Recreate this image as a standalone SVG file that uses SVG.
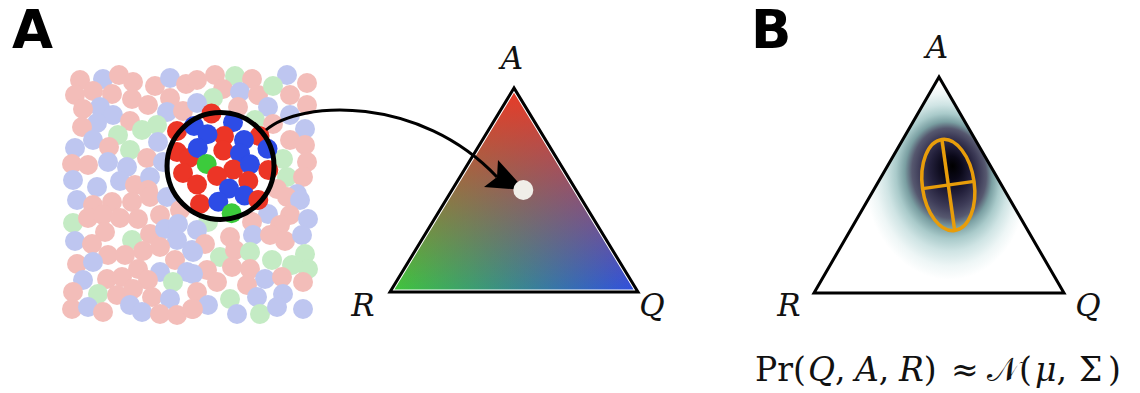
<svg xmlns="http://www.w3.org/2000/svg" width="1140" height="393" viewBox="0 0 1140 393">
<style>
.panel{font-family:"DejaVu Sans","Liberation Sans",sans-serif;font-weight:bold;font-size:53px;fill:#000}
.vlab{font-family:"DejaVu Serif","Liberation Serif",serif;font-style:italic;font-size:31px;fill:#111;text-anchor:middle}
.p{fill:#f3bdb9}.b{fill:#bec6f0}.g{fill:#c4ebc4}
.R{fill:#ec3526}.B{fill:#2d4ce6}.G{fill:#3ccb3c}
.tri{fill:none;stroke:#000;stroke-width:3;stroke-linejoin:miter}
.math{font-family:"DejaVu Serif","Liberation Serif",serif;font-size:33px;fill:#111}
.it{font-style:italic}
</style>
<defs>
<linearGradient id="baseGrad" gradientUnits="userSpaceOnUse" x1="390" y1="0" x2="638" y2="0">
<stop offset="0" stop-color="#3ec83a"/>
<stop offset="1" stop-color="#2f4ee2"/>
</linearGradient>
<linearGradient id="redGrad" gradientUnits="userSpaceOnUse" x1="0" y1="88" x2="0" y2="292">
<stop offset="0" stop-color="#ea3a26" stop-opacity="1"/>
<stop offset="1" stop-color="#ea3a26" stop-opacity="0"/>
</linearGradient>
<radialGradient id="dens" gradientUnits="userSpaceOnUse" cx="945" cy="182" r="98" fx="957" fy="167" gradientTransform="translate(945 182) rotate(-8) scale(0.82 1) translate(-945 -182)">
<stop offset="0" stop-color="#000000"/>
<stop offset="0.12" stop-color="#0a0818"/>
<stop offset="0.25" stop-color="#221f3a"/>
<stop offset="0.37" stop-color="#3e3c58"/>
<stop offset="0.46" stop-color="#56586f"/>
<stop offset="0.54" stop-color="#7a9fa2"/>
<stop offset="0.64" stop-color="#a9caca"/>
<stop offset="0.75" stop-color="#cfe4e4"/>
<stop offset="0.88" stop-color="#eef6f6"/>
<stop offset="1" stop-color="#ffffff"/>
</radialGradient>
</defs>
<rect width="1140" height="393" fill="#fff"/>

<text class="panel" x="12" y="48">A</text>
<text class="panel" x="751" y="48">B</text>

<g id="sample">
<g id="faded-dots">
<circle class="p" cx="80" cy="80" r="10"/><circle class="b" cx="103" cy="79" r="10"/><circle class="p" cx="119" cy="75" r="10"/><circle class="p" cx="133" cy="82" r="10"/><circle class="p" cx="155" cy="86" r="10"/><circle class="b" cx="170" cy="78" r="10"/><circle class="p" cx="186" cy="84" r="10"/>
<circle class="p" cx="75" cy="95" r="10"/><circle class="p" cx="93" cy="91" r="10"/><circle class="p" cx="112" cy="94" r="10"/><circle class="p" cx="132" cy="99" r="10"/><circle class="p" cx="148" cy="105" r="10"/><circle class="p" cx="170" cy="98" r="10"/>
<circle class="b" cx="100" cy="107" r="10"/><circle class="p" cx="83" cy="109" r="10"/><circle class="b" cx="113" cy="115" r="10"/><circle class="p" cx="130" cy="121" r="10"/><circle class="b" cx="167" cy="112" r="10"/><circle class="p" cx="183" cy="111" r="10"/>
<circle class="b" cx="97" cy="123" r="10"/><circle class="p" cx="82" cy="127" r="10"/><circle class="g" cx="118" cy="135" r="10"/><circle class="g" cx="142" cy="130" r="10"/><circle class="g" cx="157" cy="125" r="10"/>
<circle class="b" cx="93" cy="140" r="10"/><circle class="p" cx="109" cy="147" r="10"/><circle class="g" cx="130" cy="150" r="10"/><circle class="b" cx="158" cy="142" r="10"/><circle class="b" cx="75" cy="148" r="10"/>
<circle class="p" cx="147" cy="158" r="10"/><circle class="p" cx="72" cy="164" r="10"/><circle class="p" cx="88" cy="165" r="10"/><circle class="b" cx="108" cy="162" r="10"/><circle class="b" cx="127" cy="167" r="10"/><circle class="b" cx="163" cy="162" r="10"/>
<circle class="b" cx="73" cy="180" r="10"/><circle class="b" cx="97" cy="187" r="10"/><circle class="b" cx="120" cy="181" r="10"/><circle class="p" cx="135" cy="185" r="10"/><circle class="b" cx="150" cy="177" r="10"/><circle class="p" cx="148" cy="190" r="10"/>
<circle class="p" cx="197" cy="80" r="10"/><circle class="p" cx="215" cy="75" r="10"/><circle class="g" cx="235" cy="76" r="10"/><circle class="p" cx="252" cy="79" r="10"/><circle class="b" cx="287" cy="75" r="10"/><circle class="p" cx="307" cy="83" r="10"/>
<circle class="p" cx="223" cy="89" r="10"/><circle class="b" cx="240" cy="92" r="10"/><circle class="p" cx="258" cy="95" r="10"/><circle class="g" cx="273" cy="86" r="10"/><circle class="p" cx="290" cy="95" r="10"/><circle class="g" cx="213" cy="98" r="10"/>
<circle class="b" cx="197" cy="103" r="10"/><circle class="p" cx="238" cy="107" r="10"/><circle class="b" cx="268" cy="107" r="10"/><circle class="b" cx="290" cy="115" r="10"/><circle class="p" cx="307" cy="105" r="10"/>
<circle class="g" cx="255" cy="120" r="10"/><circle class="p" cx="273" cy="124" r="10"/><circle class="b" cx="305" cy="129" r="10"/><circle class="p" cx="290" cy="140" r="10"/><circle class="p" cx="305" cy="145" r="10"/>
<circle class="g" cx="283" cy="159" r="10"/><circle class="p" cx="307" cy="162" r="10"/><circle class="g" cx="287" cy="177" r="10"/><circle class="p" cx="303" cy="177" r="10"/><circle class="p" cx="277" cy="189" r="10"/><circle class="b" cx="297" cy="194" r="10"/>
<circle class="b" cx="77" cy="200" r="10"/><circle class="p" cx="93" cy="205" r="10"/><circle class="p" cx="112" cy="202" r="10"/><circle class="p" cx="132" cy="202" r="10"/><circle class="p" cx="150" cy="197" r="10"/><circle class="b" cx="167" cy="197" r="10"/>
<circle class="g" cx="73" cy="223" r="10"/><circle class="p" cx="88" cy="218" r="10"/><circle class="p" cx="103" cy="215" r="10"/><circle class="p" cx="120" cy="218" r="10"/><circle class="p" cx="138" cy="219" r="10"/><circle class="p" cx="160" cy="215" r="10"/><circle class="p" cx="180" cy="210" r="10"/>
<circle class="p" cx="105" cy="232" r="10"/><circle class="g" cx="132" cy="240" r="10"/><circle class="p" cx="150" cy="234" r="10"/><circle class="b" cx="165" cy="229" r="10"/><circle class="b" cx="178" cy="224" r="10"/>
<circle class="b" cx="75" cy="241" r="10"/><circle class="p" cx="92" cy="244" r="10"/><circle class="b" cx="177" cy="240" r="10"/><circle class="p" cx="143" cy="251" r="10"/><circle class="p" cx="160" cy="247" r="10"/><circle class="b" cx="192" cy="250" r="10"/>
<circle class="p" cx="108" cy="255" r="10"/><circle class="p" cx="125" cy="255" r="10"/><circle class="p" cx="77" cy="264" r="10"/><circle class="b" cx="93" cy="262" r="10"/><circle class="p" cx="138" cy="269" r="10"/><circle class="p" cx="175" cy="260" r="10"/>
<circle class="b" cx="160" cy="272" r="10"/><circle class="b" cx="187" cy="272" r="10"/><circle class="p" cx="107" cy="279" r="10"/><circle class="p" cx="122" cy="277" r="10"/><circle class="p" cx="148" cy="280" r="10"/><circle class="b" cx="83" cy="280" r="10"/><circle class="g" cx="173" cy="282" r="10"/>
<circle class="p" cx="73" cy="292" r="10"/><circle class="g" cx="98" cy="294" r="10"/><circle class="p" cx="117" cy="295" r="10"/><circle class="p" cx="133" cy="289" r="10"/><circle class="p" cx="152" cy="297" r="10"/><circle class="b" cx="170" cy="299" r="10"/>
<circle class="p" cx="72" cy="309" r="10"/><circle class="b" cx="88" cy="307" r="10"/><circle class="p" cx="103" cy="312" r="10"/><circle class="b" cx="130" cy="305" r="10"/><circle class="b" cx="142" cy="312" r="10"/><circle class="p" cx="160" cy="314" r="10"/><circle class="p" cx="177" cy="315" r="10"/><circle class="p" cx="192" cy="309" r="10"/>
<circle class="p" cx="287" cy="197" r="10"/><circle class="b" cx="300" cy="200" r="10"/><circle class="b" cx="268" cy="214" r="10"/><circle class="p" cx="290" cy="215" r="10"/><circle class="b" cx="308" cy="219" r="10"/><circle class="p" cx="252" cy="222" r="10"/><circle class="p" cx="280" cy="225" r="10"/><circle class="g" cx="208" cy="222" r="10"/>
<circle class="b" cx="197" cy="230" r="10"/><circle class="p" cx="230" cy="237" r="10"/><circle class="b" cx="253" cy="235" r="10"/><circle class="p" cx="270" cy="235" r="10"/><circle class="p" cx="285" cy="241" r="10"/><circle class="b" cx="302" cy="235" r="10"/>
<circle class="p" cx="205" cy="244" r="10"/><circle class="b" cx="193" cy="252" r="10"/><circle class="g" cx="220" cy="257" r="10"/><circle class="p" cx="235" cy="250" r="10"/><circle class="g" cx="250" cy="252" r="10"/><circle class="g" cx="272" cy="260" r="10"/><circle class="g" cx="292" cy="265" r="10"/><circle class="g" cx="305" cy="254" r="10"/><circle class="g" cx="308" cy="269" r="10"/>
<circle class="p" cx="207" cy="270" r="10"/><circle class="p" cx="232" cy="267" r="10"/><circle class="p" cx="250" cy="269" r="10"/><circle class="b" cx="193" cy="274" r="10"/><circle class="p" cx="217" cy="282" r="10"/><circle class="b" cx="265" cy="279" r="10"/><circle class="p" cx="282" cy="277" r="10"/>
<circle class="p" cx="247" cy="285" r="10"/><circle class="p" cx="303" cy="282" r="10"/><circle class="p" cx="197" cy="292" r="10"/><circle class="g" cx="230" cy="299" r="10"/><circle class="b" cx="257" cy="297" r="10"/><circle class="b" cx="283" cy="294" r="10"/>
<circle class="b" cx="208" cy="305" r="10"/><circle class="p" cx="193" cy="309" r="10"/><circle class="b" cx="237" cy="314" r="10"/><circle class="g" cx="260" cy="314" r="10"/><circle class="b" cx="277" cy="307" r="10"/><circle class="b" cx="303" cy="309" r="10"/>
</g>
<circle cx="220.5" cy="166" r="51" fill="#fff"/>
<g id="sampled-dots">
<circle class="R" cx="211.5" cy="113.5" r="10"/><circle class="R" cx="177" cy="131" r="10"/><circle class="B" cx="194" cy="126" r="10"/><circle class="B" cx="233" cy="122.3" r="10"/>
<circle class="R" cx="224" cy="136" r="10"/><circle class="B" cx="207.5" cy="134.3" r="10"/><circle class="R" cx="259.5" cy="136" r="10"/><circle class="B" cx="244" cy="140" r="10"/>
<circle class="R" cx="177" cy="152" r="10"/><circle class="R" cx="189" cy="158" r="10"/><circle class="B" cx="197.8" cy="148" r="10"/><circle class="R" cx="223.3" cy="150.5" r="10"/><circle class="B" cx="240" cy="153.5" r="10"/><circle class="B" cx="267.5" cy="148.8" r="10"/>
<circle class="R" cx="233.3" cy="169.5" r="10"/><circle class="B" cx="250" cy="164.3" r="10"/><circle class="G" cx="206.7" cy="164" r="10"/><circle class="R" cx="268.3" cy="170" r="10"/>
<circle class="R" cx="183" cy="173" r="10"/><circle class="R" cx="217" cy="176" r="10"/><circle class="R" cx="248.3" cy="181" r="10"/><circle class="R" cx="197" cy="184.5" r="10"/>
<circle class="B" cx="229" cy="188.5" r="10"/><circle class="B" cx="244.5" cy="195.5" r="10"/><circle class="R" cx="258.3" cy="200" r="10"/><circle class="R" cx="200" cy="204" r="10"/><circle class="B" cx="218.3" cy="201.7" r="10"/><circle class="G" cx="231.7" cy="213.3" r="10"/>
</g>
<circle cx="220.5" cy="166" r="53.5" fill="none" stroke="#000" stroke-width="5"/>
</g>

<g id="simplexA">
<polygon points="514,88 390,292 638,292" fill="url(#baseGrad)"/>
<polygon points="514,88 390,292 638,292" fill="url(#redGrad)"/>
<polygon points="514,88 390,292 638,292" fill="none" stroke="#fff" stroke-width="5"/>
<polygon class="tri" points="514,88 390,292 638,292"/>
<text class="vlab" x="512" y="69">A</text>
<text class="vlab" x="363" y="316">R</text>
<text class="vlab" x="652" y="316">Q</text>
</g>

<g id="connectors">
<path d="M266,130 C300,100 420,95 497,177" fill="none" stroke="#000" stroke-width="3"/>
<path d="M484,187 L497,177 L498,160 L525,190 Z" fill="#000"/>
</g>
<circle id="point" cx="523.3" cy="190" r="10" fill="#f0eee8"/>

<g id="simplexB">
<polygon points="939,77 814,293 1064,293" fill="url(#dens)"/>
<polygon class="tri" points="939,77 814,293 1064,293"/>
<g transform="translate(948.3 185) rotate(-8)" fill="none" stroke="#e89d0a" stroke-width="3.5">
<ellipse cx="0" cy="0" rx="26" ry="46"/>
<line x1="0" y1="-46" x2="0" y2="46"/>
<line x1="-26" y1="0" x2="26" y2="0"/>
</g>
<text class="vlab" x="937" y="58">A</text>
<text class="vlab" x="789" y="316">R</text>
<text class="vlab" x="1088" y="316">Q</text>
</g>

<g id="formula">
<text class="math" y="381"><tspan x="755">Pr(</tspan><tspan x="808"><tspan class="it">Q</tspan>,</tspan><tspan x="855"><tspan class="it">A</tspan>,</tspan><tspan x="899"><tspan class="it">R</tspan>)</tspan><tspan x="951">≈</tspan><tspan x="987">𝒩(</tspan><tspan x="1035"><tspan class="it">μ</tspan>,</tspan><tspan x="1079">Σ</tspan><tspan x="1108">)</tspan></text>
</g>
</svg>
